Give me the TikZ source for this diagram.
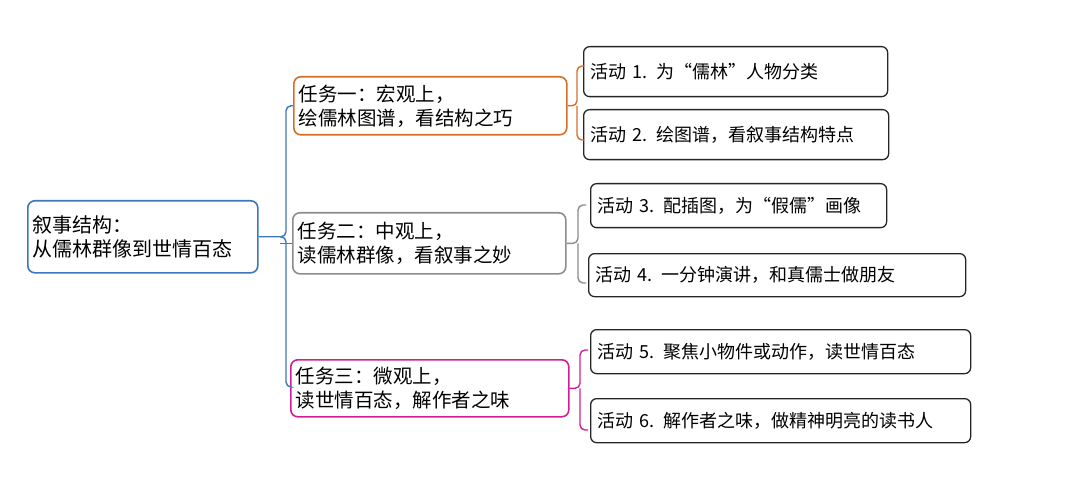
\documentclass[tikz,border=0pt]{standalone}
\usepackage{fontspec}
\setmainfont{Noto Sans CJK SC}
\begin{document}
\begin{tikzpicture}[x=1pt,y=-1pt,
  bx/.style={draw,rounded corners=7pt,line width=1.6pt,align=left,inner xsep=5pt,inner ysep=0pt,anchor=north west,font=\fontsize{19.5}{24}\selectfont},
  br/.style={line width=1.4pt,rounded corners=5pt}]
\useasboundingbox (0,0) rectangle (1080,492);
\definecolor{cblue}{RGB}{60,120,185}
\definecolor{corange}{RGB}{215,110,40}
\definecolor{cgrey}{RGB}{140,140,140}
\definecolor{cmag}{RGB}{210,30,150}
\node[bx,draw=cblue,text width=220pt,minimum height=72pt,font=\fontsize{20}{24}\selectfont] (root) at (27,200) {叙事结构：\\从儒林群像到世情百态};
\node[bx,draw=corange,text width=263pt,minimum height=58pt] (t1) at (293,76) {任务一：宏观上，\\绘儒林图谱，看结构之巧};
\node[bx,draw=cgrey,text width=263pt,minimum height=61pt] (t2) at (292,212) {任务二：中观上，\\读儒林群像，看叙事之妙};
\node[bx,draw=cmag,text width=268pt,minimum height=57pt] (t3) at (290,359) {任务三：微观上，\\读世情百态，解作者之味};
\tikzset{ac/.style={bx,draw=black!85,line width=1.3pt,rounded corners=6pt,inner xsep=7pt,font=\fontsize{18}{22}\selectfont}}
\node[ac,text width=290pt,minimum height=50pt] (a1) at (583,46) {活动 1. 为“儒林”人物分类};
\node[ac,text width=291pt,minimum height=50pt] (a2) at (583,109) {活动 2. 绘图谱，看叙事结构特点};
\node[ac,text width=282pt,minimum height=44pt] (a3) at (590,183) {活动 3. 配插图，为“假儒”画像};
\node[ac,text width=363pt,minimum height=43pt] (a4) at (588,253) {活动 4. 一分钟演讲，和真儒士做朋友};
\node[ac,text width=366pt,minimum height=44pt] (a5) at (590,329) {活动 5. 聚焦小物件或动作，读世情百态};
\node[ac,text width=366pt,minimum height=44pt] (a6) at (590,398) {活动 6. 解作者之味，做精神明亮的读书人};
% root brace
\draw[br,cblue] (root.east) -- (286,236|-root.east) -- (286,100|-t1.west) -- (t1.west);
\draw[br,cblue] (280,236|-root.east) -- (286,236|-root.east) -- (286,387) -- (t3.west|-0,387);
\draw[br,cblue] (t2.west) -- (280,0|-t2.west);
% task braces
\draw[br,corange] (t1.east) -- (577,0|-t1.east) -- (577,66) -- (584,66);
\draw[br,corange] (577,0|-t1.east) -- (577,140) -- (584,140);
\draw[br,cgrey] (t2.east) -- (578,0|-t2.east) -- (578,205) -- (586,205);
\draw[br,cgrey] (578,0|-t2.east) -- (578,283) -- (586,283);
\draw[br,cmag] (t3.east) -- (580,0|-t3.east) -- (580,350) -- (588,350);
\draw[br,cmag] (580,0|-t3.east) -- (580,430) -- (588,430);
\end{tikzpicture}
\end{document}
